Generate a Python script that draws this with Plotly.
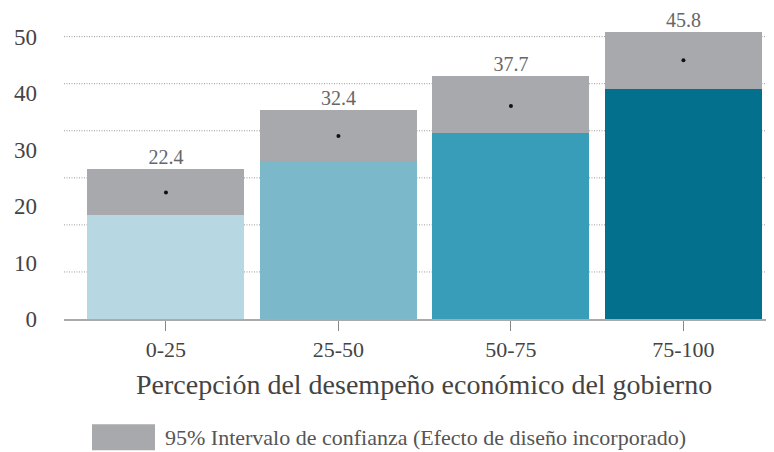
import plotly.graph_objects as go

categories = ["0-25", "25-50", "50-75", "75-100"]
estimates = [22.4, 32.4, 37.7, 45.8]
ci_lower = [18.4, 28.0, 33.0, 40.7]
ci_upper = [26.5, 37.0, 43.0, 50.9]
y_ticks = [0, 10, 20, 30, 40, 50]
grid_vals = [50 / 6 * k for k in range(1, 7)]
bar_colors = ["#b7d7e2", "#7bb8ca", "#389db8", "#03708e"]
ci_color = "#a8a9ac"
legend_label = "95% Intervalo de confianza (Efecto de diseño incorporado)"
x_title = "Percepción del desempeño económico del gobierno"

FONT = "Liberation Serif"

# page has an 8px body margin: figure is drawn 8px in from the top-left
W, H = 766, 444
L, B = 56, 132.5
PH = H - B          # plot height in px
PW = W - L

def px(xp):   # page x -> paper x
    return (xp - 8 - L) / PW

def py(yp):   # page y -> paper y
    return (PH - (yp - 8)) / PH

xs = list(range(len(categories)))
fig = go.Figure()
fig.add_trace(go.Bar(x=xs, y=ci_lower, marker=dict(color=bar_colors, line=dict(width=0)),
                     width=0.91, showlegend=False, hoverinfo="skip"))
fig.add_trace(go.Bar(x=xs, y=[u - l for u, l in zip(ci_upper, ci_lower)], base=ci_lower,
                     marker=dict(color=ci_color, line=dict(width=0)), width=0.91,
                     showlegend=False, name=legend_label))
fig.add_trace(go.Scatter(x=xs, y=estimates, mode="markers",
                         marker=dict(color="#111111", size=4), showlegend=False))
fig.add_trace(go.Scatter(x=xs, y=ci_upper, mode="text", text=[f"{v:.1f}" for v in estimates],
                         textposition="top center", textfont=dict(family=FONT, size=20, color="#666666"),
                         showlegend=False, cliponaxis=False))

shapes = []
for g in grid_vals:
    shapes.append(dict(type="line", xref="paper", x0=0, x1=1, yref="y", y0=g, y1=g,
                       line=dict(color="#999999", width=1, dash="1px,1.5px"), layer="below"))
# legend swatch
shapes.append(dict(type="rect", xref="paper", yref="paper", x0=px(92), x1=px(155),
                   y0=py(451), y1=py(425), fillcolor=ci_color, line=dict(width=0)))

fig.update_layout(
    width=W, height=H,
    margin=dict(l=L, r=0, t=0, b=B),
    plot_bgcolor="white", paper_bgcolor="white",
    barmode="overlay",
    bargap=0,
    shapes=shapes,
    font=dict(family=FONT, color="#555555"),
    xaxis=dict(range=[-0.591, 3.525], tickvals=xs, ticktext=categories,
               ticks="outside", ticklen=10, tickwidth=1, tickcolor="#888888",
               tickfont=dict(family=FONT, size=22, color="#444444"),
               showline=True, linecolor="#aaaaaa", linewidth=2, showgrid=False, zeroline=False,
               automargin=False),
    yaxis=dict(range=[0, PH / 5.656], tickvals=y_ticks, showgrid=False, zeroline=False,
               tickfont=dict(family=FONT, size=23, color="#444444"), ticks="",
               ticklabelstandoff=26, automargin=False),
    annotations=[
        dict(xref="paper", yref="paper", x=px(423.5), y=py(385), text=x_title, showarrow=False,
             xanchor="center", yanchor="middle", font=dict(family=FONT, size=28, color="#444444")),
        dict(xref="paper", yref="paper", x=px(163), y=py(438), text=legend_label, showarrow=False,
             xanchor="left", yanchor="middle", font=dict(family=FONT, size=22, color="#555555")),
    ],
)

fig.write_html("out.html")
